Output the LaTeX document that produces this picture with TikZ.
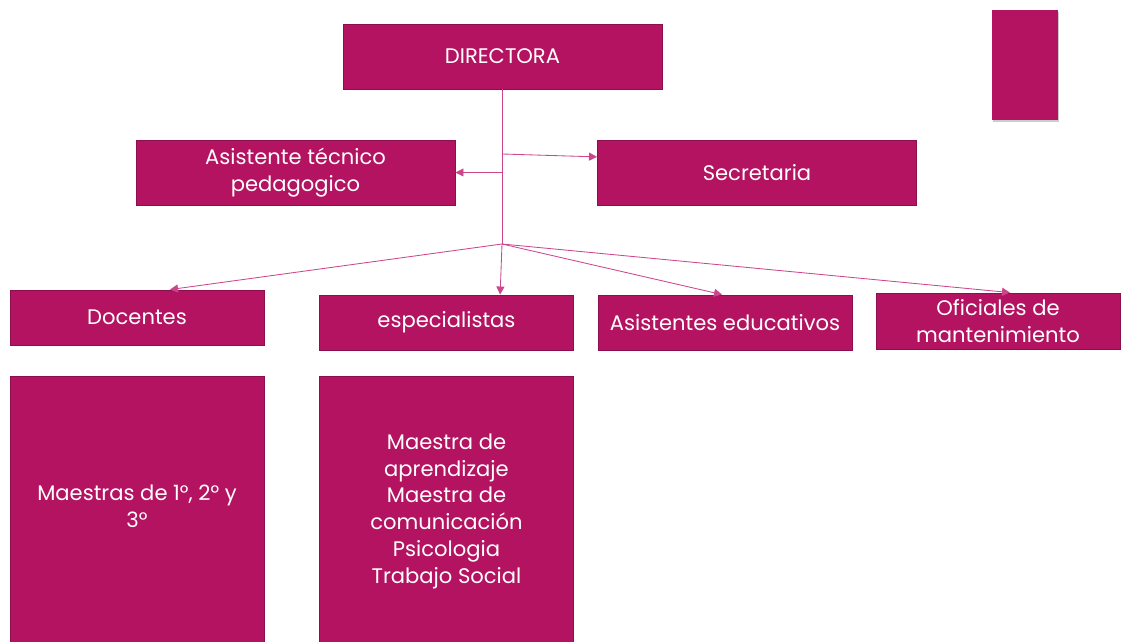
\documentclass[tikz,border=0pt]{standalone}
\usepackage{fontspec}
\setmainfont{Poppins}
\usetikzlibrary{calc,arrows.meta,shadows}

\definecolor{orgfill}{RGB}{179,19,97}
\definecolor{orgedge}{RGB}{140,14,76}
\definecolor{orgline}{RGB}{205,70,140}

\tikzset{
  orgbox/.style={draw=orgedge,line width=0.6pt,fill=orgfill,text=white,align=center,
    inner sep=0pt,font=\fontsize{15}{19}\selectfont},
  bigbox/.style={orgbox,minimum width=7.975cm,minimum height=1.625cm},
  midbox/.style={orgbox,minimum width=6.35cm,minimum height=1.375cm},
  orgarrow/.style={draw=orgline,line width=0.6pt,-{Triangle[length=0.2cm,width=0.2cm]}},
  orgline/.style={draw=orgline,line width=0.6pt}
}

\begin{document}
\begin{tikzpicture}[x=0.025cm,y=-0.025cm]
            \useasboundingbox[fill=white] (0,0) rectangle (1121,642);

            \node[bigbox] (dir) at (502.5,56.5) {DIRECTORA};
            \node[bigbox] (ats) at (295.5,172.5) {Asistente técnico\\pedagogico};
            \node[bigbox] (sec) at (757,172.5) {Secretaria};

            \node[midbox] (doc) at (137,317.5) {Docentes};
            \node[midbox] (esp) at (446.5,322.5) {especialistas};
            \node[midbox] (aed) at (725,322.5) {Asistentes educativos};
            \node[midbox,minimum width=6.1cm,minimum height=1.4cm] (ofi) at (998,321) {Oficiales de\\mantenimiento};

            \node[midbox,minimum height=6.75cm,anchor=north] (mae) at (137,376) {};
            \node at (137,509) {\color{white}\fontsize{15}{19}\selectfont\begin{tabular}{@{}c@{}}Maestras de 1°, 2° y\\3°\end{tabular}};
            \node[midbox,minimum height=6.75cm,anchor=north] (mesp) at (446.5,376) {};
            \node at (446.5,511) {\color{white}\fontsize{15}{19}\selectfont\begin{tabular}{@{}c@{}}Maestra de\\aprendizaje\\Maestra de\\comunicación\\Psicologia\\Trabajo Social\end{tabular}};

            \node[fill=orgfill,minimum width=1.65cm,minimum height=2.75cm,inner sep=0pt,
              drop shadow={shadow xshift=0.6pt,shadow yshift=-1.2pt,opacity=0.4}] (deco) at (1025,65) {};

            \coordinate (hub) at (502,244);
            \coordinate (tosec) at (502,154);
            \coordinate (toats) at (502,172.5);

            \draw[orgline] (dir.south -| hub) -- (hub);
            \draw[orgarrow] (tosec) -- ([yshift=0.39cm]sec.west);
            \draw[orgarrow] (toats) -- (ats.east);

            \draw[orgarrow] (hub) -- ([xshift=0.825cm]doc.north);
            \draw[orgarrow] (hub) -- ([xshift=1.34cm]esp.north);
            \draw[orgarrow] (hub) -- ([xshift=-0.075cm]aed.north);
            \draw[orgarrow] (hub) -- ([xshift=0.3cm]ofi.north);
          \end{tikzpicture}
\end{document}
